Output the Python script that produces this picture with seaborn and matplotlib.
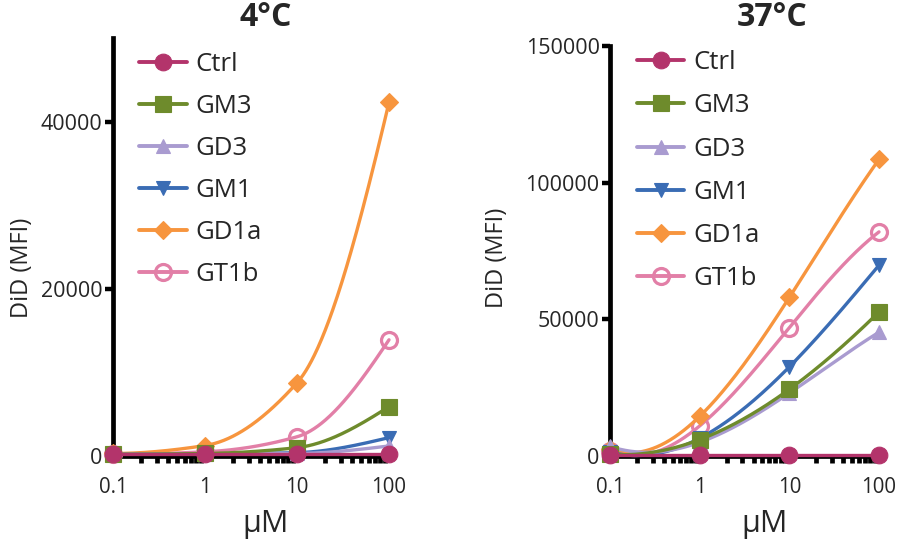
import numpy as np
import pandas as pd
import matplotlib
matplotlib.use("Agg")
import matplotlib.pyplot as plt
from matplotlib.lines import Line2D
from matplotlib.ticker import FixedLocator, FixedFormatter, LogLocator, NullFormatter
import seaborn as sns

# ---------------- data ----------------
conc = [0.1, 1, 10, 100]
conc_labels = ["0.1", "1", "10", "100"]
series = ["Ctrl", "GM3", "GD3", "GM1", "GD1a", "GT1b"]

cold_ctrl = [200, 200, 200, 200]
cold_gm3 = [200, 300, 1000, 5900]
cold_gd3 = [200, 250, 300, 1200]
cold_gm1 = [200, 250, 400, 2200]
cold_gd1a = [300, 1250, 8750, 42300]
cold_gt1b = [200, 500, 2300, 13900]

warm_ctrl = [500, 500, 500, 500]
warm_gm3 = [600, 6000, 24400, 52700]
warm_gd3 = [3500, 5000, 23000, 45300]
warm_gm1 = [1500, 6500, 32600, 69800]
warm_gd1a = [2500, 14500, 58000, 108500]
warm_gt1b = [2000, 11000, 47000, 82000]

cold = [cold_ctrl, cold_gm3, cold_gd3, cold_gm1, cold_gd1a, cold_gt1b]
warm = [warm_ctrl, warm_gm3, warm_gd3, warm_gm1, warm_gd1a, warm_gt1b]

colors = ["#B3346B", "#6E8B2C", "#A99BD0", "#3A6CB4", "#F7953E", "#E27FA7"]
markers = ["o", "s", "^", "v", "D", "o"]
msizes = [12, 11, 10.5, 10.5, 9, 11.5]
filled = [True, True, True, True, True, False]

FONT = "Open Sans"


def pchip(x, y, xn):
    x = np.asarray(x, float)
    y = np.asarray(y, float)
    h = np.diff(x)
    d = np.diff(y) / h
    n = len(x)
    m = np.zeros(n)
    for k in range(1, n - 1):
        if d[k - 1] * d[k] <= 0:
            m[k] = 0.0
        else:
            w1 = 2 * h[k] + h[k - 1]
            w2 = h[k] + 2 * h[k - 1]
            m[k] = (w1 + w2) / (w1 / d[k - 1] + w2 / d[k])

    def endslope(h0, h1, d0, d1):
        s = ((2 * h0 + h1) * d0 - h0 * d1) / (h0 + h1)
        if np.sign(s) != np.sign(d0):
            s = 0.0
        elif np.sign(d0) != np.sign(d1) and abs(s) > abs(3 * d0):
            s = 3 * d0
        return s

    m[0] = endslope(h[0], h[1], d[0], d[1])
    m[-1] = endslope(h[-1], h[-2], d[-1], d[-2])
    out = np.empty_like(xn, dtype=float)
    idx = np.clip(np.searchsorted(x, xn) - 1, 0, n - 2)
    for i, xv in enumerate(xn):
        k = idx[i]
        t = (xv - x[k]) / h[k]
        h00 = 2 * t**3 - 3 * t**2 + 1
        h10 = t**3 - 2 * t**2 + t
        h01 = -2 * t**3 + 3 * t**2
        h11 = t**3 - t**2
        out[i] = h00 * y[k] + h10 * h[k] * m[k] + h01 * y[k + 1] + h11 * h[k] * m[k + 1]
    return out


def cubic_through(x, y, xn):
    c = np.polyfit(np.asarray(x, float), np.asarray(y, float), len(x) - 1)
    return np.polyval(c, xn)


sns.set_theme(style="white")
plt.rcParams["font.family"] = [FONT, "DejaVu Sans"]

fig = plt.figure(figsize=(8.97, 5.45), dpi=100)
ax1 = fig.add_axes([113 / 897, 1 - 456 / 545, 276 / 897, 418 / 545])
ax2 = fig.add_axes([610 / 897, 1 - 456 / 545, 269 / 897, 410 / 545])


def draw(ax, data, ymax, yticks, ylabels, smoother):
    lx = np.log10(conc)
    xs = np.linspace(lx[0], lx[-1], 300)
    order = list(range(len(series)))[::-1]
    for z, i in enumerate(order):
        ys = smoother(lx, data[i], xs)
        df = pd.DataFrame({"x": 10 ** xs, "y": ys})
        sns.lineplot(data=df, x="x", y="y", ax=ax, color=colors[i], lw=2.4,
                     zorder=3 + z, clip_on=False, legend=False)
        ax.plot(conc, data[i], linestyle="none", marker=markers[i],
                markersize=msizes[i],
                markerfacecolor=colors[i] if filled[i] else "none",
                markeredgecolor=colors[i], markeredgewidth=2.3 if not filled[i] else 0.8,
                zorder=3 + z, clip_on=False)
    ax.set_xscale("log")
    ax.set_xlim(0.1, 100)
    ax.set_ylim(0, ymax)
    ax.xaxis.set_major_locator(FixedLocator(conc))
    ax.xaxis.set_major_formatter(FixedFormatter(conc_labels))
    ax.xaxis.set_minor_locator(LogLocator(base=10, subs=np.arange(2, 10), numticks=20))
    ax.xaxis.set_minor_formatter(NullFormatter())
    ax.yaxis.set_major_locator(FixedLocator(yticks))
    ax.yaxis.set_major_formatter(FixedFormatter(ylabels))
    for s in ["top", "right"]:
        ax.spines[s].set_visible(False)
    for s in ["left", "bottom"]:
        ax.spines[s].set_linewidth(3.4)
        ax.spines[s].set_color("black")
    ax.tick_params(axis="x", which="major", direction="out", length=8, width=3.2,
                   labelsize=14.8, pad=7, color="black")
    ax.tick_params(axis="x", which="minor", direction="out", length=5, width=3.4,
                   color="black", bottom=True)
    ax.tick_params(axis="y", which="major", direction="out", length=6, width=3.2,
                   labelsize=15.5, pad=1.5, color="black", left=True)
    ax.set_xlabel("")
    ax.set_ylabel("DiD (MFI)", fontsize=17)
    ax.grid(False)
    ax.set_facecolor("none")


draw(ax1, cold, 50000, [0, 20000, 40000], ["0", "20000", "40000"], pchip)
draw(ax2, warm, 150000, [0, 50000, 100000, 150000],
     ["0", "50000", "100000", "150000"], cubic_through)

ax1.yaxis.set_label_coords(-0.287, 0.45)
ax2.yaxis.set_label_coords(-0.375, 0.483)

fig.text(266 / 897, 1 - 17 / 545, "4°C", ha="center", va="center", fontsize=23, fontweight="bold")
fig.text(772 / 897, 1 - 17 / 545, "37°C", ha="center", va="center", fontsize=23, fontweight="bold")
fig.text(266 / 897, 1 - 524 / 545, "µM", ha="center", va="center", fontsize=22)
fig.text(765 / 897, 1 - 524 / 545, "µM", ha="center", va="center", fontsize=22)

handles = []
for i, name in enumerate(series):
    handles.append(Line2D([0], [0], color=colors[i], lw=2.8, marker=markers[i],
                          markersize=msizes[i],
                          markerfacecolor=colors[i] if filled[i] else "none",
                          markeredgecolor=colors[i],
                          markeredgewidth=2.3 if not filled[i] else 0.8, label=name))

for ax, anchor, spacing in [(ax1, (0.095, 0.966), 0.66), (ax2, (0.1, 0.99), 0.71)]:
    leg = ax.legend(handles=handles, loc="upper left", bbox_to_anchor=anchor,
                    frameon=False, fontsize=18.5, handlelength=1.85,
                    handletextpad=0.35, labelspacing=spacing, borderpad=0, borderaxespad=0)
    leg.set_zorder(20)

fig.savefig("out.png", dpi=100)
